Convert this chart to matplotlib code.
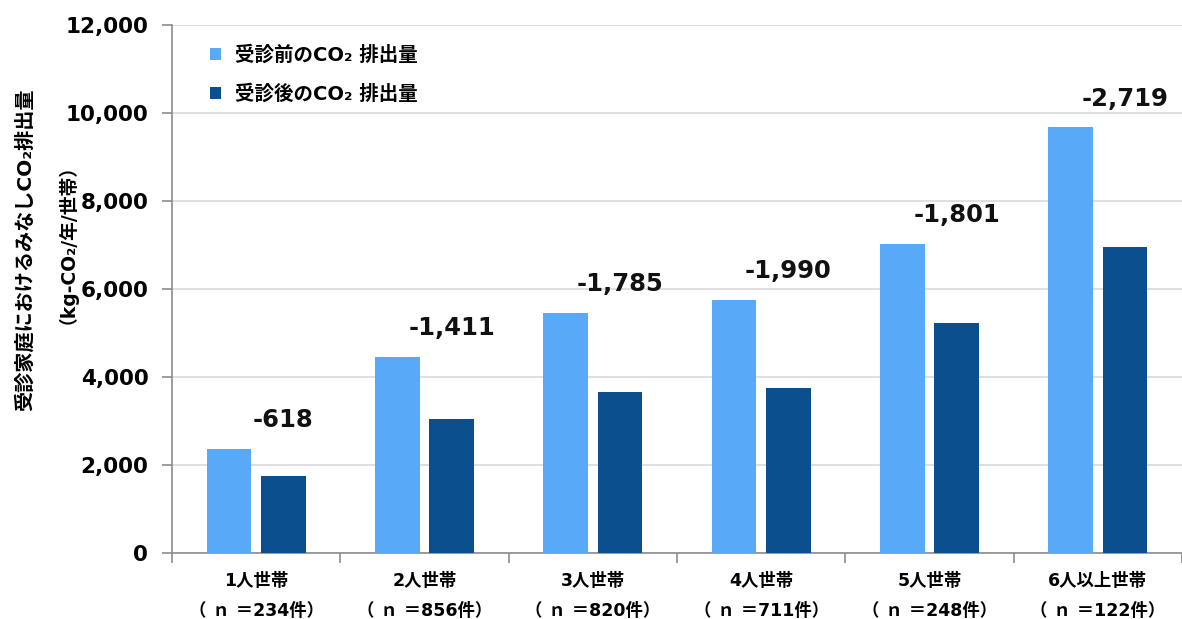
import matplotlib
matplotlib.use("Agg")
import matplotlib.pyplot as plt
import numpy as np

plt.rcParams['font.family'] = ['DejaVu Sans', 'Noto Sans CJK JP']

categories = ["1人世帯", "2人世帯", "3人世帯", "4人世帯", "5人世帯", "6人以上世帯"]
sample_sizes = ["234", "856", "820", "711", "248", "122"]
before = [2370, 4455, 5455, 5750, 7025, 9675]
reduction = [-618, -1411, -1785, -1990, -1801, -2719]
after = [b + r for b, r in zip(before, reduction)]

series_names = ["受診前のCO₂ 排出量", "受診後のCO₂ 排出量"]
color_before = "#58A9F7"
color_after = "#0B4F8F"

fig = plt.figure(figsize=(11.82, 6.19), dpi=100)
ax = fig.add_axes([0.1455, 0.1066, 0.8545, 0.853])

x = np.arange(len(categories))
w = 0.265
off = 0.162
ax.bar(x - off, before, w, color=color_before, label=series_names[0], zorder=3)
ax.bar(x + off, after, w, color=color_after, label=series_names[1], zorder=3)

for xi, b, r in zip(x, before, reduction):
    ax.annotate(f"{r:,}", xy=(xi + off, b), xytext=(0, 12), textcoords="offset points",
                ha="center", va="bottom", fontsize=17.5, fontweight="bold", color="#111111")

ax.set_xlim(-0.5, len(categories) - 0.5)
ax.set_ylim(0, 12000)
ax.set_yticks(np.arange(0, 12001, 2000))
ax.set_yticklabels([f"{v:,}" for v in range(0, 12001, 2000)], fontsize=15.5, fontweight="bold")
ax.yaxis.grid(True, color="#d9d9d9", linewidth=1.2, zorder=0)
ax.set_axisbelow(True)

ax.set_xticks(x)
ax.set_xticklabels([f"{c}\n（ ｎ ＝{n}件）" for c, n in zip(categories, sample_sizes)],
                   fontsize=12.5, fontweight="bold", linespacing=1.8)
ax.set_xticks(np.arange(-0.5, len(categories), 1.0), minor=True)
ax.tick_params(axis="x", which="major", length=0, pad=14)
ax.tick_params(axis="x", which="minor", length=7, color="#8c8c8c", width=1.2)
ax.tick_params(axis="y", length=7, color="#8c8c8c", width=1.2, pad=10)

for s in ["top", "right"]:
    ax.spines[s].set_visible(False)
for s in ["left", "bottom"]:
    ax.spines[s].set_color("#8c8c8c")
    ax.spines[s].set_linewidth(1.2)

# Two-line y-axis title
fig.text(25 / 1182, 1 - 250 / 619, "受診家庭におけるみなしCO₂排出量", rotation=90,
         ha="center", va="center", fontsize=14.5, fontweight="bold")
fig.text(58 / 1182, 1 - 235 / 619, "（kg-CO₂/年/世帯）", rotation=90,
         ha="center", va="center", fontsize=13.5, fontweight="bold")

ax.legend(loc="upper left", bbox_to_anchor=(0.02, 0.995), frameon=False,
          prop={"size": 14, "weight": "bold"}, handlelength=0.6, handleheight=0.6,
          labelspacing=1.0, handletextpad=0.7)

fig.savefig("out.png", dpi=100, facecolor="white")
